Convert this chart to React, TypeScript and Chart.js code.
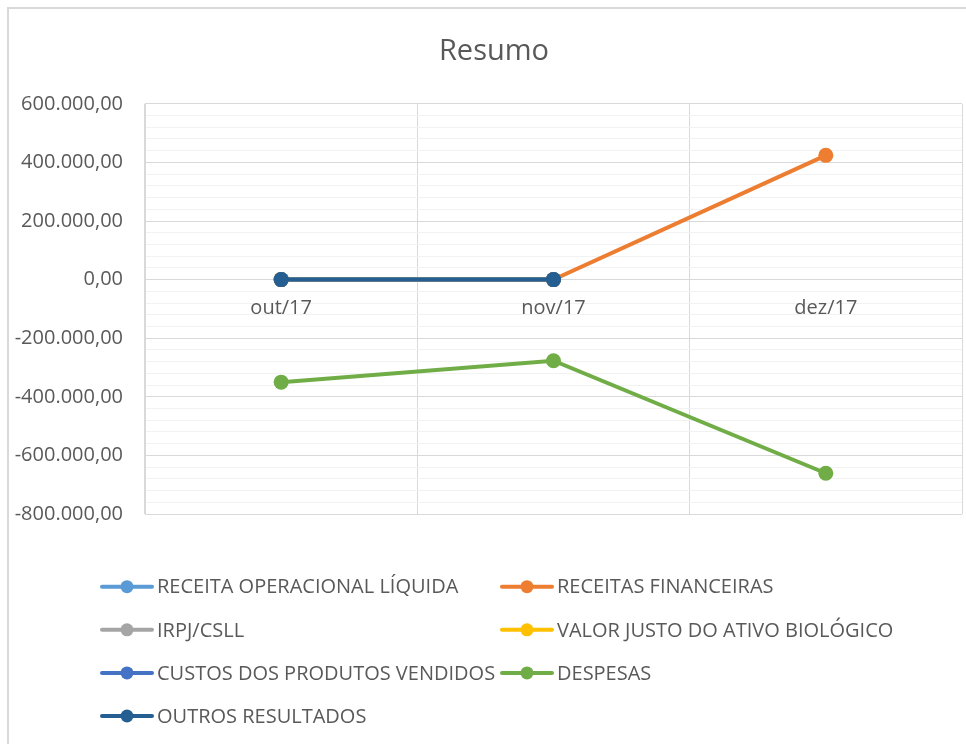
import React, { useEffect, useRef } from "react";
import { Chart, registerables } from "chart.js";

Chart.register(...registerables);

// ---- data ----
const categories = ["out/17", "nov/17", "dez/17"];
const seriesNames = [
  "RECEITA OPERACIONAL LÍQUIDA",
  "RECEITAS FINANCEIRAS",
  "IRPJ/CSLL",
  "VALOR JUSTO DO ATIVO BIOLÓGICO",
  "CUSTOS DOS PRODUTOS VENDIDOS",
  "DESPESAS",
  "OUTROS RESULTADOS",
];
const receitaOperacionalLiquida = [0, 0, null];
const receitasFinanceiras = [0, 0, 424000];
const irpjCsll = [0, 0, null];
const valorJustoAtivoBiologico = [0, 0, null];
const custosProdutosVendidos = [0, 0, null];
const despesas = [-350000, -277000, -661000];
const outrosResultados = [0, 0, null];
const seriesColors = ["#5B9BD5", "#ED7D31", "#A5A5A5", "#FFC000", "#4472C4", "#70AD47", "#255E91"];

const yMin = -800000;
const yMax = 600000;
const yMajorStep = 200000;
const yMinorStep = 40000;

const FONT = "'Open Sans', sans-serif";
const TEXT_COLOR = "#595959";

function fmtBR(v: number): string {
  const neg = v < 0;
  const abs = Math.round(Math.abs(v));
  const int = abs.toString().replace(/\B(?=(\d{3})+(?!\d))/g, ".");
  return (neg ? "-" : "") + int + ",00";
}

const frameAndLegend = {
  id: "frameAndLegend",
  beforeDraw(chart: any) {
    const ctx = chart.ctx;
    ctx.save();
    ctx.fillStyle = "#ffffff";
    ctx.fillRect(0, 0, chart.width, chart.height);
    ctx.strokeStyle = "#d9d9d9";
    ctx.lineWidth = 2;
    ctx.beginPath();
    ctx.moveTo(1, chart.height);
    ctx.lineTo(1, 1);
    ctx.lineTo(chart.width, 1);
    ctx.stroke();
    ctx.restore();
  },
  afterDraw(chart: any) {
    const ctx = chart.ctx;
    const cols = [93, 493];
    const rowTop = 579.7;
    const rowGap = 43.1;
    ctx.save();
    chart.data.datasets.forEach((ds: any, i: number) => {
      const x = cols[i % 2];
      const y = rowTop + Math.floor(i / 2) * rowGap;
      ctx.strokeStyle = ds.borderColor;
      ctx.lineWidth = 4;
      ctx.lineCap = "round";
      ctx.beginPath();
      ctx.moveTo(x + 2, y);
      ctx.lineTo(x + 52, y);
      ctx.stroke();
      ctx.fillStyle = ds.borderColor;
      ctx.beginPath();
      ctx.arc(x + 27, y, 6.5, 0, Math.PI * 2);
      ctx.fill();
      ctx.fillStyle = TEXT_COLOR;
      ctx.font = `20px ${FONT}`;
      ctx.textBaseline = "middle";
      ctx.textAlign = "left";
      ctx.fillText(ds.label, x + 57, y + 1);
    });
    ctx.restore();
  },
};

export default function App() {
  const ref = useRef<HTMLCanvasElement | null>(null);

  useEffect(() => {
    if (!ref.current) return;
    const seriesData = [
      receitaOperacionalLiquida,
      receitasFinanceiras,
      irpjCsll,
      valorJustoAtivoBiologico,
      custosProdutosVendidos,
      despesas,
      outrosResultados,
    ];
    const n = seriesNames.length;
    const chart = new Chart(ref.current, {
      type: "line",
      data: {
        labels: categories,
        datasets: seriesNames.map((name, i) => ({
          label: name,
          data: seriesData[i],
          order: n - i,
          yAxisID: "y",
          borderColor: seriesColors[i],
          backgroundColor: seriesColors[i],
          borderWidth: 4,
          pointRadius: 7.5,
          pointHoverRadius: 7.5,
          pointBorderWidth: 0,
          tension: 0,
          borderCapStyle: "round",
          spanGaps: false,
        })),
      },
      options: {
        responsive: false,
        animation: false,
        layout: { padding: { left: 0, right: 0, top: 0, bottom: 253 } },
        plugins: {
          legend: { display: false },
          tooltip: { enabled: false },
          title: {
            display: true,
            text: "Resumo",
            color: TEXT_COLOR,
            font: { family: FONT, size: 29, weight: "normal", lineHeight: 1.2 },
            padding: { top: 27, bottom: 35 },
          },
        },
        scales: {
          x: {
            type: "category",
            position: { y: 0 } as any,
            offset: true,
            grid: { offset: true, color: "#d9d9d9", lineWidth: 1, drawTicks: false },
            border: { display: true, color: "#d9d9d9", width: 1 },
            ticks: { color: TEXT_COLOR, font: { family: FONT, size: 20 }, padding: 17, maxRotation: 0 },
          },
          y: {
            type: "linear",
            position: "left",
            min: yMin,
            max: yMax,
            afterFit(scale: any) {
              scale.width = 138;
            },
            grid: {
              drawTicks: false,
              color: (c: any) =>
                c.tick && c.tick.value % yMajorStep === 0 ? "#d9d9d9" : "#f2f2f2",
              lineWidth: 1,
            },
            border: { display: true, color: "#d9d9d9", width: 1 },
            ticks: {
              stepSize: yMinorStep,
              autoSkip: false,
              maxTicksLimit: 100,
              padding: 22,
              color: TEXT_COLOR,
              font: { family: FONT, size: 20 },
              callback: (v: any) => (Number(v) % yMajorStep === 0 ? fmtBR(Number(v)) : ""),
            },
          },
          ySpacer: {
            type: "linear",
            position: "right",
            min: yMin,
            max: yMax,
            afterFit(scale: any) {
              scale.width = 19;
            },
            grid: { display: false, drawTicks: false },
            border: { display: false },
            ticks: { display: false },
          },
        },
      },
      plugins: [frameAndLegend],
    });
    return () => chart.destroy();
  }, []);

  return (
    <div
      style={{
        position: "fixed",
        left: 0,
        top: 0,
        width: 966,
        height: 744,
        overflow: "hidden",
        background: "#ffffff",
      }}
    >
      <canvas
        ref={ref}
        width={974}
        height={760}
        style={{ position: "absolute", left: 7, top: 7, width: 974, height: 760 }}
      />
    </div>
  );
}
